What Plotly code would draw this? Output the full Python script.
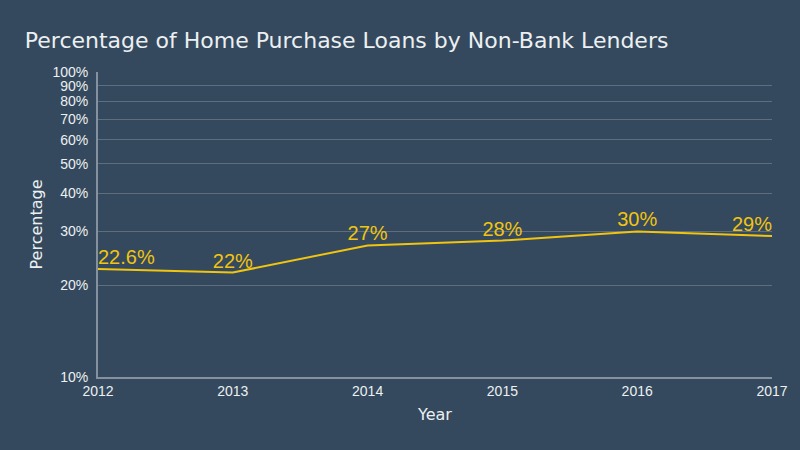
import plotly.graph_objects as go

years = [2012, 2013, 2014, 2015, 2016, 2017]
share = [22.6, 22, 27, 28, 30, 29]
labels = ["22.6%", "22%", "27%", "28%", "30%", "29%"]
positions = ["top right", "top center", "top center", "top center", "top center", "top left"]
ytick_vals = [10, 20, 30, 40, 50, 60, 70, 80, 90, 100]
ytick_text = [f"{v}%" for v in ytick_vals]

bg = "#34495e"
fg = "#ecf0f1"
line_c = "#f1c40f"

fig = go.Figure(go.Scatter(
    x=years, y=share, mode="lines+text", text=labels, textposition=positions,
    line=dict(color=line_c, width=2),
    textfont=dict(color=line_c, size=20, family="Liberation Sans, Arial, sans-serif"),
    cliponaxis=False, hoverinfo="skip",
))

fig.update_layout(
    width=800, height=450,
    paper_bgcolor=bg, plot_bgcolor=bg,
    margin=dict(l=98, r=26, t=72, b=73),
    title=dict(text="Percentage of Home Purchase Loans by Non-Bank Lenders",
               x=0.031, xanchor="left", y=0.91, yanchor="middle",
               font=dict(family="DejaVu Sans, sans-serif", size=22, color=fg)),
    font=dict(family="Liberation Sans, Arial, sans-serif", color=fg),
    showlegend=False,
    xaxis=dict(range=[2012, 2017], tickmode="array", tickvals=years,
               ticktext=[str(y) for y in years], showgrid=False, zeroline=False,
               showline=True, linecolor="#85919e", linewidth=2,
               tickfont=dict(size=14, color=fg),
               title=dict(text="Year", font=dict(size=16, color=fg, family="DejaVu Sans, sans-serif"), standoff=11)),
    yaxis=dict(type="log", range=[1, 2], tickmode="array", tickvals=ytick_vals,
               ticktext=ytick_text, showgrid=True, gridcolor="#5f6e7d", gridwidth=1,
               zeroline=False, showline=True, linecolor="#85919e", linewidth=2,
               tickfont=dict(size=14, color=fg), ticks="", ticklabelstandoff=5,
               title=dict(text="Percentage", font=dict(size=16, color=fg, family="DejaVu Sans, sans-serif"), standoff=6)),
)

fig.write_html("out.html", config={"displayModeBar": False},
               post_script="document.body.style.margin='0';document.body.style.overflow='hidden';")
